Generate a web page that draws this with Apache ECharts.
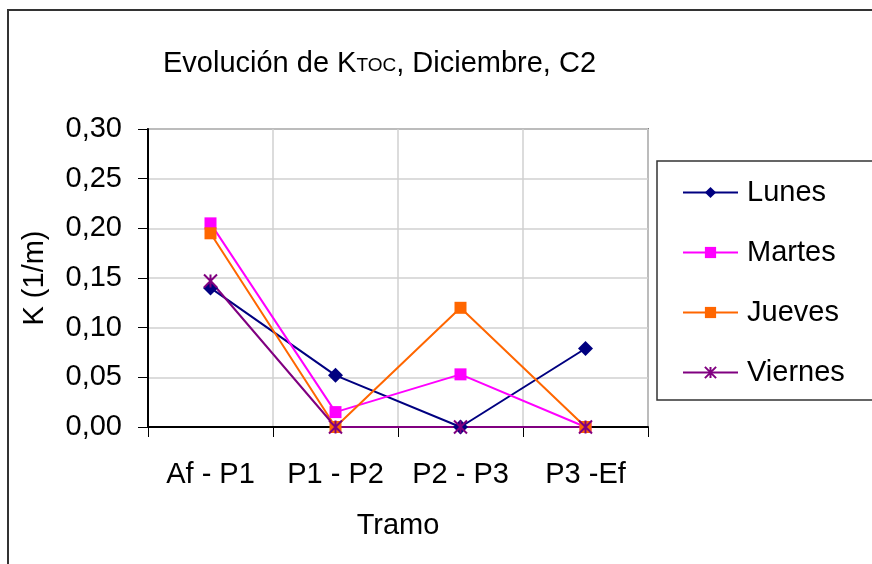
<!DOCTYPE html>
<html>
<head>
<meta charset="utf-8">
<script src="https://cdn.jsdelivr.net/npm/echarts@6/dist/echarts.min.js"></script>
<style>
  html, body { margin: 0; padding: 0; background: #fff; }
  #chart { width: 872px; height: 564px; }
</style>
</head>
<body>
<div id="chart"></div>
<script>
// tramos del eje x
const tramos = ['Af - P1', 'P1 - P2', 'P2 - P3', 'P3 -Ef'];

// K (1/m) por dia
const lunes = [0.140, 0.052, 0.000, 0.079];
const martes = [0.205, 0.015, 0.053, 0.000];
const jueves = [0.195, 0.000, 0.120, 0.000];
const viernes = [0.147, 0.000, 0.000, 0.000];

const yTicks = [0, 0.05, 0.10, 0.15, 0.20, 0.25, 0.30];

const font = 'Liberation Sans, Arial, sans-serif';
const fs = 29;
const asterisk = 'path://M0,0L10,10M10,0L0,10M5,0L5,10';

const chart = echarts.init(document.getElementById('chart'), null, { renderer: 'canvas' });

const mkSeries = (name, data, color, symbol, size) => ({
  name: name,
  type: 'line',
  data: data,
  symbol: symbol,
  symbolSize: size,
  showSymbol: true,
  lineStyle: { color: color, width: 2 },
  itemStyle: { color: color, borderColor: color, borderWidth: symbol === asterisk ? 2 : 0 },
  emphasis: { disabled: true },
  animation: false
});

const option = {
  backgroundColor: '#fff',
  graphic: [{
    type: 'rect',
    shape: { x: 8, y: 10, width: 880, height: 580 },
    style: { fill: 'none', stroke: '#333', lineWidth: 2 },
    silent: true
  }],
  title: {
    text: 'Evolución de K{s|TOC}, Diciembre, C2',
    left: 158,
    top: 44,
    textStyle: {
      fontFamily: font, fontSize: fs, fontWeight: 'normal', color: '#000',
      rich: { s: { fontFamily: font, fontSize: 19, color: '#000', padding: [5, 0, 0, 0] } }
    }
  },
  legend: {
    orient: 'vertical',
    left: 657,
    top: 161,
    padding: [17, 120, 13, 25],
    itemWidth: 55,
    itemHeight: 14,
    itemGap: 31,
    borderColor: '#333',
    borderWidth: 1.5,
    textStyle: { fontFamily: font, fontSize: fs, color: '#000', padding: [0, 0, 0, 4] },
    data: ['Lunes', 'Martes', 'Jueves', 'Viernes']
  },
  grid: {
    left: 148, top: 129, width: 500, height: 298,
    show: true, borderColor: '#808080', borderWidth: 2,
    containLabel: false
  },
  xAxis: {
    type: 'category',
    data: tramos,
    boundaryGap: true,
    name: 'Tramo',
    nameLocation: 'middle',
    nameGap: 84,
    nameTextStyle: { fontFamily: font, fontSize: fs, color: '#000' },
    axisLine: { lineStyle: { color: '#000', width: 2 } },
    axisTick: { show: true, inside: false, length: 10, alignWithLabel: false, interval: 0, lineStyle: { color: '#000' } },
    axisLabel: { fontFamily: font, fontSize: fs, color: '#000', margin: 33, interval: 0 },
    splitLine: { show: true, interval: 0, lineStyle: { color: '#d0d0d0', width: 1.5 } }
  },
  yAxis: {
    type: 'value',
    min: yTicks[0],
    max: yTicks[yTicks.length - 1],
    interval: 0.05,
    name: 'K (1/m)',
    nameLocation: 'middle',
    nameGap: 99,
    nameTextStyle: { fontFamily: font, fontSize: fs, color: '#000' },
    axisLine: { show: true, lineStyle: { color: '#000', width: 2 } },
    axisTick: { show: true, inside: false, length: 10, lineStyle: { color: '#000' } },
    axisLabel: {
      fontFamily: font, fontSize: fs, color: '#000', margin: 26,
      formatter: v => v.toFixed(2).replace('.', ',')
    },
    splitLine: { show: true, lineStyle: { color: '#d0d0d0', width: 1.5 } }
  },
  series: [
    mkSeries('Lunes', lunes, '#000080', 'diamond', 15),
    mkSeries('Martes', martes, '#ff00ff', 'rect', 12),
    mkSeries('Jueves', jueves, '#ff6600', 'rect', 12),
    mkSeries('Viernes', viernes, '#800080', asterisk, 13)
  ]
};

chart.setOption(option);
</script>
</body>
</html>
